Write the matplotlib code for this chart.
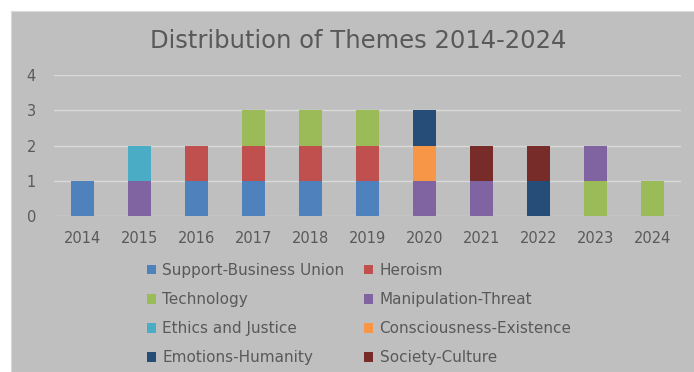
import matplotlib.pyplot as plt
import numpy as np
from matplotlib.patches import Rectangle, Patch

plt.rcParams['font.family'] = ['DejaVu Sans']

years = ["2014", "2015", "2016", "2017", "2018", "2019", "2020", "2021", "2022", "2023", "2024"]
themes = ["Support-Business Union", "Heroism", "Technology", "Manipulation-Threat",
          "Ethics and Justice", "Consciousness-Existence", "Emotions-Humanity", "Society-Culture"]
support = [1, 0, 1, 1, 1, 1, 0, 0, 0, 0, 0]
heroism = [0, 0, 1, 1, 1, 1, 0, 0, 0, 0, 0]
technology = [0, 0, 0, 1, 1, 1, 0, 0, 0, 1, 1]
manipulation = [0, 1, 0, 0, 0, 0, 1, 1, 0, 1, 0]
ethics = [0, 1, 0, 0, 0, 0, 0, 0, 0, 0, 0]
consciousness = [0, 0, 0, 0, 0, 0, 1, 0, 0, 0, 0]
emotions = [0, 0, 0, 0, 0, 0, 1, 0, 1, 0, 0]
society = [0, 0, 0, 0, 0, 0, 0, 1, 1, 0, 0]
series = [support, heroism, technology, manipulation, ethics, consciousness, emotions, society]
colors = ["#4F81BD", "#C0504D", "#9BBB59", "#8064A2", "#4BACC6", "#F79646", "#254D78", "#772C2A"]

bg = "#BFBFBF"
txt = "#595959"

fig = plt.figure(figsize=(6.94, 3.72), dpi=100)
fig.patch.set_facecolor("white")
fig.patches.append(Rectangle((11 / 694, 0), 1, 1 - 11 / 372, transform=fig.transFigure,
                             facecolor=bg, edgecolor="#D9D9D9", lw=0.8, zorder=-10))

ax = fig.add_axes([54 / 694, 1 - 216 / 372, 627 / 694, 141 / 372])
ax.set_facecolor("none")

x = np.arange(len(years))
bottom = np.zeros(len(years))
for name, vals, c in zip(themes, series, colors):
    ax.bar(x, vals, 0.41, bottom=bottom, color=c, label=name, zorder=3)
    bottom += np.array(vals)

ax.set_xlim(-0.5, len(years) - 0.5)
ax.set_ylim(0, 4)
ax.set_yticks([0, 1, 2, 3, 4])
ax.set_xticks(x)
ax.set_xticklabels(years)
ax.grid(axis="y", color="#D9D9D9", lw=1, zorder=0)
for s in ax.spines.values():
    s.set_visible(False)
ax.tick_params(length=0, colors=txt, labelsize=10.5)
ax.tick_params(axis="y", pad=13)
ax.tick_params(axis="x", pad=16)
for lab in ax.get_xticklabels():
    lab.set_va("center")

fig.text(358 / 694, 1 - 41 / 372, "Distribution of Themes 2014-2024", ha="center", va="center",
         fontsize=17.5, color=txt)

# Excel fills the legend row by row
handles = [Patch(facecolor=c, label=n) for n, c in zip(themes, colors)]
order = [0, 2, 4, 6, 1, 3, 5, 7]
leg = fig.legend([handles[i] for i in order], [themes[i] for i in order], ncol=2,
                 loc="upper left", bbox_to_anchor=(147 / 694, 1 - 263 / 372),
                 frameon=False, fontsize=11, labelcolor=txt, handlelength=0.6,
                 handleheight=0.6, handletextpad=0.4, columnspacing=1.3, labelspacing=0.92,
                 borderaxespad=0, borderpad=0)

fig.savefig("out.png", dpi=100, facecolor=fig.get_facecolor())
